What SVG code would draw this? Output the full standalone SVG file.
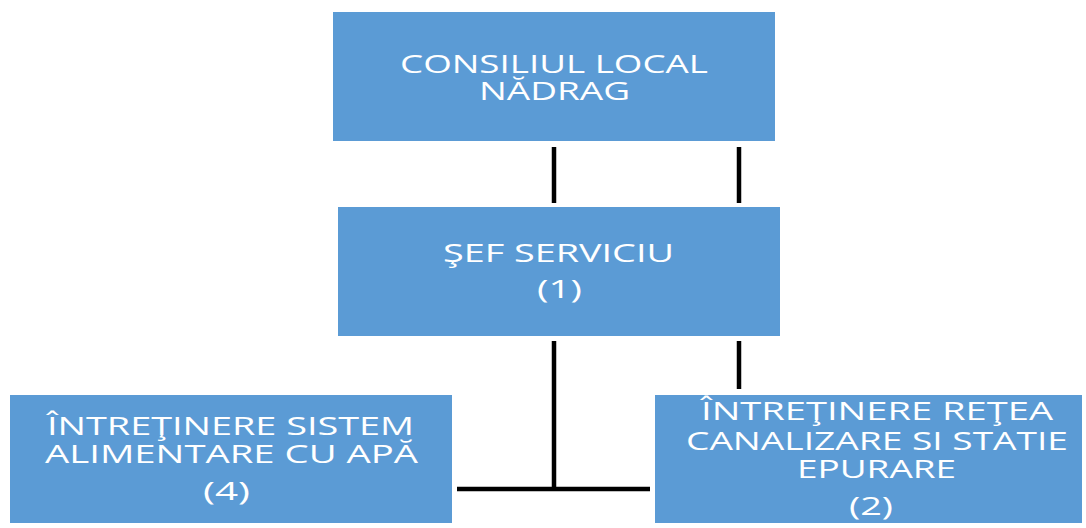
<svg xmlns="http://www.w3.org/2000/svg" width="1086" height="528" viewBox="0 0 1086 528">
<style>
.box{fill:#5B9BD5;}
.t{font-family:"Open Sans","Liberation Sans",sans-serif;font-size:26px;fill:#FFFFFF;text-anchor:middle;}
.c{stroke:#000000;stroke-width:4.5;fill:none;}
</style>
<rect width="1086" height="528" fill="#FFFFFF"/>
<g id="connectors">
<line class="c" x1="554" y1="147" x2="554" y2="203"/>
<line class="c" x1="739" y1="147" x2="739" y2="203"/>
<line class="c" x1="554" y1="341" x2="554" y2="489"/>
<line class="c" x1="739" y1="341" x2="739" y2="389"/>
<line class="c" x1="457" y1="489" x2="650" y2="489"/>
</g>
<g id="consiliul">
<rect class="box" x="333" y="12" width="442" height="129"/>
<text class="t" x="554" y="73" textLength="308" lengthAdjust="spacingAndGlyphs">CONSILIUL LOCAL</text>
<text class="t" x="554.5" y="100" textLength="151" lengthAdjust="spacingAndGlyphs">NĂDRAG</text>
</g>
<g id="sef">
<rect class="box" x="338" y="207" width="442" height="129"/>
<text class="t" x="558.5" y="262" textLength="231" lengthAdjust="spacingAndGlyphs">ŞEF SERVICIU</text>
<text class="t" x="559.5" y="298" textLength="45" lengthAdjust="spacingAndGlyphs">(1)</text>
</g>
<g id="apa">
<rect class="box" x="10" y="395" width="442" height="128"/>
<text class="t" x="230.5" y="435" textLength="367" lengthAdjust="spacingAndGlyphs">ÎNTREŢINERE SISTEM</text>
<text class="t" x="231.5" y="463" textLength="373" lengthAdjust="spacingAndGlyphs">ALIMENTARE CU APĂ</text>
<text class="t" x="226.5" y="500" textLength="47" lengthAdjust="spacingAndGlyphs">(4)</text>
</g>
<g id="canalizare">
<rect class="box" x="655" y="395" width="427" height="128"/>
<text class="t" x="877" y="420" textLength="352" lengthAdjust="spacingAndGlyphs">ÎNTREŢINERE REŢEA</text>
<text class="t" x="877" y="450" textLength="382" lengthAdjust="spacingAndGlyphs">CANALIZARE SI STATIE</text>
<text class="t" x="876.5" y="478" textLength="159" lengthAdjust="spacingAndGlyphs">EPURARE</text>
<text class="t" x="871" y="515" textLength="44" lengthAdjust="spacingAndGlyphs">(2)</text>
</g>
</svg>
